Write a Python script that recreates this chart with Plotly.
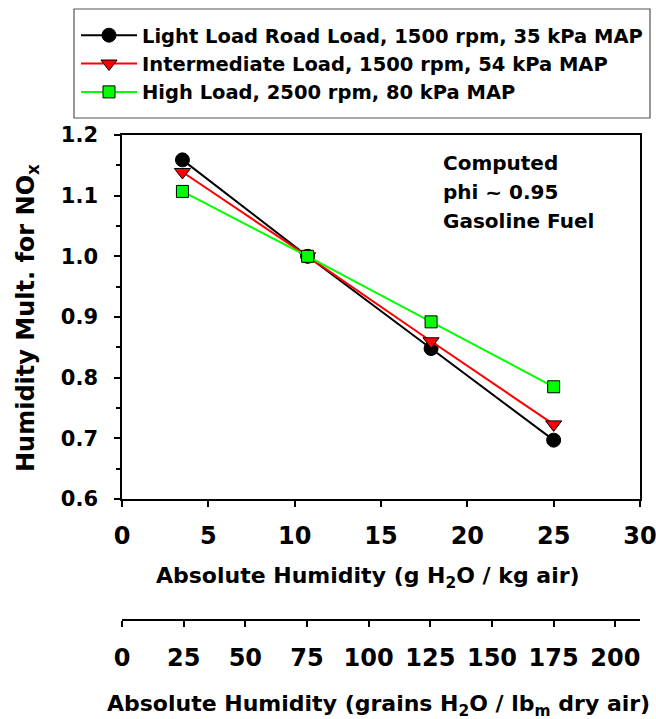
import plotly.graph_objects as go

# ---- data ----
humidity_g_per_kg = [3.5, 10.75, 17.9, 25.0]
light_load = [1.159, 1.0, 0.848, 0.697]
intermediate_load = [1.139, 1.0, 0.860, 0.723]
high_load = [1.107, 1.0, 0.892, 0.785]

series_names = [
    "Light Load Road Load, 1500 rpm, 35 kPa MAP",
    "Intermediate Load, 1500 rpm, 54 kPa MAP",
    "High Load, 2500 rpm, 80 kPa MAP",
]
note_lines = ["Computed", "phi ~ 0.95", "Gasoline Fuel"]
y_ticks = [0.6, 0.7, 0.8, 0.9, 1.0, 1.1, 1.2]
x_ticks = [0, 5, 10, 15, 20, 25, 30]
grain_ticks = [0, 25, 50, 75, 100, 125, 150, 175, 200]

W, H = 656, 719
L, R, T, B = 122, 16, 135, 99  # plot spans x 122..640, paper y 135..620
PLOT_BOTTOM = 499


def py(ypage):
    return (620 - ypage) / 485


def px(xpage):
    return (xpage - 122) / 518


FONT = "DejaVu Sans"

fig = go.Figure()
fig.add_trace(go.Scatter(
    x=humidity_g_per_kg, y=light_load, name=series_names[0], mode="lines+markers",
    line=dict(color="black", width=2),
    marker=dict(symbol="circle", size=14, color="black", line=dict(color="black", width=1)),
))
fig.add_trace(go.Scatter(
    x=humidity_g_per_kg, y=intermediate_load, name=series_names[1], mode="lines+markers",
    line=dict(color="#ff0000", width=2),
    marker=dict(symbol="triangle-down", size=14, color="#ff0000", line=dict(color="black", width=1)),
))
fig.add_trace(go.Scatter(
    x=humidity_g_per_kg, y=high_load, name=series_names[2], mode="lines+markers",
    line=dict(color="#00ff00", width=2),
    marker=dict(symbol="square", size=12, color="#00ff00", line=dict(color="black", width=1)),
))
# invisible trace for the grains axis
fig.add_trace(go.Scatter(
    x=[0, 210], y=[None, None], xaxis="x2", mode="markers", showlegend=False,
    hoverinfo="skip", marker=dict(opacity=0),
))

ytickfont = dict(family=FONT, size=21, color="black", weight="bold")
xtickfont = dict(family=FONT, size=24, color="black", weight="bold")

fig.update_layout(
    width=W, height=H,
    margin=dict(l=L, r=R, t=T, b=B, autoexpand=False),
    paper_bgcolor="white", plot_bgcolor="white",
    font=dict(family=FONT, color="black"),
    showlegend=True,
    legend=dict(
        x=px(76), y=py(16), xanchor="left", yanchor="top",
        borderwidth=0, bgcolor="rgba(0,0,0,0)",
        font=dict(family=FONT, size=19.5, color="black", weight="bold"),
        itemwidth=56, tracegroupgap=0,
    ),
    xaxis=dict(
        range=[0, 30], tickvals=x_ticks, ticktext=[str(v) for v in x_ticks],
        showgrid=False, zeroline=False,
        showline=True, linecolor="black", linewidth=1.5, mirror=True,
        ticks="outside", ticklen=6, tickwidth=1.5, tickcolor="black",
        tickfont=xtickfont, ticklabelstandoff=8, ticklabeloverflow="allow",
        anchor="y",
    ),
    xaxis2=dict(
        range=[0, 210], tickvals=grain_ticks, ticktext=[str(v) for v in grain_ticks],
        overlaying="x", side="bottom", anchor="free", position=0,
        showgrid=False, zeroline=False,
        showline=True, linecolor="black", linewidth=1.5,
        ticks="outside", ticklen=6, tickwidth=1.5, tickcolor="black",
        tickfont=xtickfont, ticklabelstandoff=10, ticklabeloverflow="allow",
    ),
    yaxis=dict(
        range=[0.6, 1.2], tickvals=y_ticks, ticktext=[f"{v:.1f}" for v in y_ticks],
        domain=[py(PLOT_BOTTOM), 1],
        showgrid=False, zeroline=False,
        showline=True, linecolor="black", linewidth=1.5, mirror=True,
        ticks="outside", ticklen=6, tickwidth=1.5, tickcolor="black",
        tickfont=ytickfont, ticklabelstandoff=12,
        minor=dict(ticks="outside", dtick=0.05, ticklen=4, tickwidth=1.5, tickcolor="black", showgrid=False),
    ),
)

# legend frame
fig.add_shape(
    type="rect", xref="paper", yref="paper",
    x0=px(74), x1=px(650), y0=py(118), y1=py(9),
    line=dict(color="#555555", width=1.2), fillcolor="rgba(0,0,0,0)", layer="above",
)

titlefont = dict(family=FONT, size=22, color="black", weight="bold")
annos = [
    dict(text="Absolute Humidity (g H<sub>2</sub>O / kg air)", x=px(368), y=py(577)),
    dict(text="Absolute Humidity (grains H<sub>2</sub>O / lb<sub>m</sub> dry air)", x=px(378), y=py(705)),
]
for a in annos:
    fig.add_annotation(xref="paper", yref="paper", xanchor="center", yanchor="middle",
                       showarrow=False, font=titlefont, **a)
fig.add_annotation(
    text="Humidity Mult. for NO<sub>x</sub>", xref="paper", yref="paper",
    x=px(27), y=py(318), xanchor="center", yanchor="middle", textangle=-90,
    showarrow=False, font=dict(family=FONT, size=24, color="black", weight="bold"),
)
for line_text, ypage in zip(note_lines, [162.5, 191.5, 220.5]):
    fig.add_annotation(
        text=line_text, xref="paper", yref="paper",
        x=px(441), y=py(ypage), xanchor="left", yanchor="middle", align="left",
        showarrow=False, font=dict(family=FONT, size=20, color="black", weight="bold"),
    )

fig.write_html(
    "out.html",
    config={"displayModeBar": False},
    post_script="document.body.style.margin='0';document.body.style.overflow='hidden';",
)
